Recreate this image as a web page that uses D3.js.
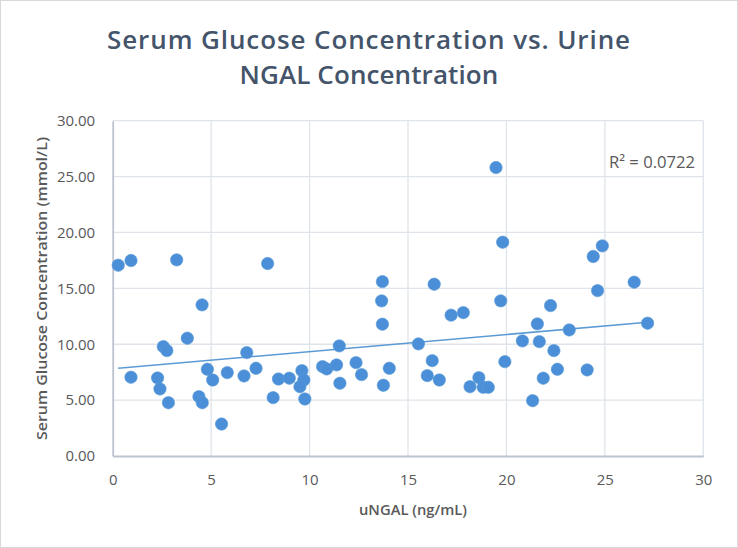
<!DOCTYPE html>
<html><head><meta charset="utf-8">
<script src="https://cdn.jsdelivr.net/npm/d3@7/dist/d3.min.js"></script>
<style>body{margin:0;background:#fff}svg{display:block}</style>
</head><body>
<svg id="c" width="738" height="548"></svg>
<script>
const uNGAL = [0.28,0.93,3.25,7.87,4.54,3.79,2.57,2.75,6.81,0.93,2.28,2.40,2.83,4.81,5.08,4.38,4.55,5.53,5.82,6.67,7.28,8.42,8.97,9.61,9.71,9.51,8.15,9.76,11.51,10.66,10.87,11.37,11.54,12.36,12.64,13.70,13.66,13.70,13.75,14.05,15.53,16.23,15.98,16.59,16.33,17.19,17.81,19.71,19.92,18.15,18.60,18.82,19.08,19.47,19.81,24.87,24.41,26.49,24.63,22.24,21.57,23.19,27.17,20.81,21.67,22.41,22.59,24.10,21.87,21.33];
const glucose = [17.07,17.49,17.55,17.22,13.52,10.54,9.79,9.43,9.25,7.05,6.98,6.00,4.77,7.76,6.80,5.31,4.77,2.86,7.46,7.16,7.85,6.89,6.96,7.64,6.80,6.20,5.22,5.10,9.85,8.00,7.79,8.15,6.51,8.35,7.28,15.60,13.88,11.79,6.33,7.85,10.03,8.53,7.19,6.80,15.37,12.60,12.83,13.88,8.44,6.20,7.01,6.15,6.15,25.81,19.13,18.80,17.85,15.55,14.80,13.46,11.82,11.28,11.88,10.30,10.23,9.43,7.76,7.70,6.96,4.95];
const xTicks = [0,5,10,15,20,25,30];
const yTicks = [0,5,10,15,20,25,30];
const trendX = [0.28, 27.17];
const trendY = [7.85, 11.97];
const rSquaredLabel = "R² = 0.0722";
const titleLines = ["Serum Glucose Concentration vs. Urine","NGAL Concentration"];
const xTitle = "uNGAL (ng/mL)";
const yTitle = "Serum Glucose Concentration (mmol/L)";

const svg = d3.select("#c");
const L = 112.7, R = 703.3, T = 120.7, B = 456;
const x = d3.scaleLinear().domain([0,30]).range([L,R]);
const y = d3.scaleLinear().domain([0,30]).range([B,T]);
const font = "'Open Sans', 'Liberation Sans', sans-serif";

svg.append("rect").attr("x",0.5).attr("y",0.5).attr("width",737).attr("height",547)
  .attr("fill","#fff").attr("stroke","#d9d9d9");

// gridlines
svg.append("g").selectAll("line").data(yTicks.slice(1)).join("line")
  .attr("x1",L).attr("x2",R).attr("y1",d=>y(d)).attr("y2",d=>y(d))
  .attr("stroke","#dfe3ea").attr("stroke-width",1.3);
svg.append("g").selectAll("line").data(xTicks.slice(1)).join("line")
  .attr("y1",T).attr("y2",B).attr("x1",d=>x(d)).attr("x2",d=>x(d))
  .attr("stroke","#dfe3ea").attr("stroke-width",1.3);

// axes
const xa = svg.append("g").attr("transform",`translate(0,${B})`)
  .call(d3.axisBottom(x).tickValues(xTicks).tickSize(0).tickPadding(18).tickFormat(d3.format("d")));
const ya = svg.append("g").attr("transform",`translate(${L},0)`)
  .call(d3.axisLeft(y).tickValues(yTicks).tickSize(0).tickPadding(17.5).tickFormat(d3.format(".2f")));
[xa,ya].forEach(a=>{
  a.select(".domain").attr("stroke","#bcc3cf").attr("stroke-width",1.8);
  a.selectAll("text").attr("fill","#595959").style("font-family",font).style("font-size","15px");
});

// trendline
svg.append("line").attr("x1",x(trendX[0])).attr("y1",y(trendY[0]))
  .attr("x2",x(trendX[1])).attr("y2",y(trendY[1]))
  .attr("stroke","#5b9bd5").attr("stroke-width",1.6);

// points
svg.append("g").selectAll("circle").data(uNGAL.map((v,i)=>[v,glucose[i]])).join("circle")
  .attr("cx",d=>x(d[0])).attr("cy",d=>y(d[1])).attr("r",6.2)
  .attr("fill","#4a8fd8").attr("stroke","#5b9bd5").attr("stroke-width",0.6);

// R2 label
svg.append("text").attr("x",609).attr("y",168).text(rSquaredLabel)
  .attr("textLength",86).attr("lengthAdjust","spacingAndGlyphs")
  .attr("fill","#595959").style("font-family",font).style("font-size","16px");

// titles
svg.append("g").selectAll("text").data(titleLines).join("text")
  .attr("x",369).attr("y",(d,i)=>[49,84][i]).attr("text-anchor","middle").text(d=>d)
  .attr("fill","#44546a").style("font-family",font).style("font-size","26px")
  .style("font-weight","600").style("letter-spacing",(d,i)=>["0.9px","0.1px"][i]);

svg.append("text").attr("x",413).attr("y",515).attr("text-anchor","middle").text(xTitle)
  .attr("textLength",108).attr("lengthAdjust","spacingAndGlyphs")
  .attr("fill","#595959").style("font-family",font).style("font-size","14.5px").style("font-weight","600");
svg.append("text").attr("transform",`translate(47,288.5) rotate(-90)`).attr("text-anchor","middle").text(yTitle)
  .attr("textLength",303).attr("lengthAdjust","spacingAndGlyphs")
  .attr("fill","#595959").style("font-family",font).style("font-size","14px").style("font-weight","600");
</script>
</body></html>
